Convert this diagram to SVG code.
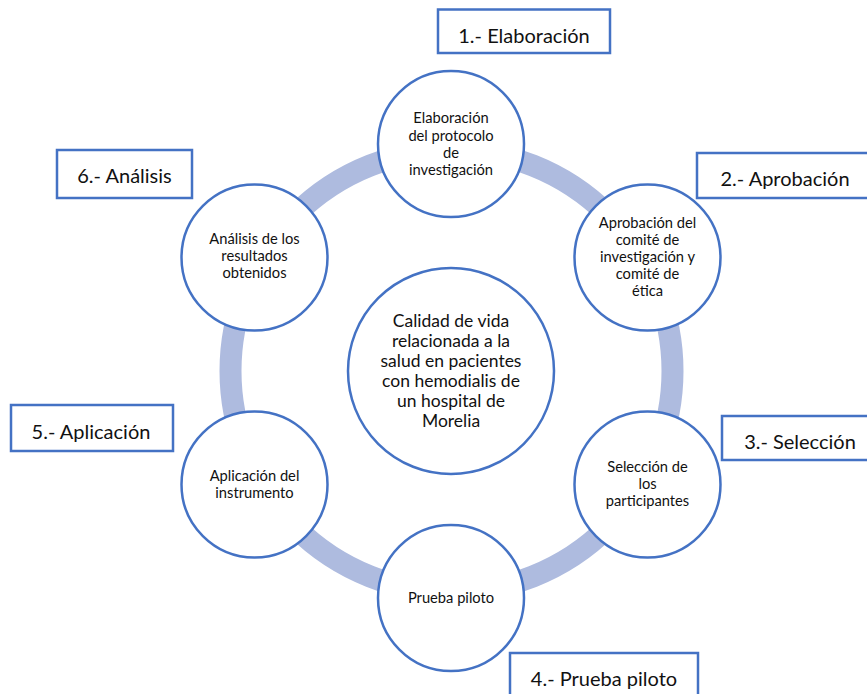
<svg xmlns="http://www.w3.org/2000/svg" width="867" height="694" viewBox="0 0 867 694">
<style>
.node{fill:#FFFFFF;stroke:#4472C4;stroke-width:2.5}
.box{fill:#FFFFFF;stroke:#4472C4;stroke-width:2.5}
.t{font-family:Lato,"Liberation Sans",sans-serif;font-size:14.7px;fill:#111111;text-anchor:middle}
.tc{font-family:Lato,"Liberation Sans",sans-serif;font-size:17.5px;fill:#111111;text-anchor:middle}
.tl{font-family:Lato,"Liberation Sans",sans-serif;font-size:20px;fill:#111111;text-anchor:middle}
</style>
<rect width="867" height="694" fill="#FFFFFF"/>
<g id="connectors">
<circle cx="451.5" cy="371" r="221" fill="none" stroke="#AEBBDF" stroke-width="22"/>
</g>
<g id="center">
<circle class="node" cx="451" cy="371" r="103"/>
<text class="tc"><tspan x="451" y="327">Calidad de vida</tspan><tspan x="451" y="347">relacionada a la</tspan><tspan x="451" y="367">salud en pacientes</tspan><tspan x="451" y="387">con hemodialis de</tspan><tspan x="451" y="407">un hospital de</tspan><tspan x="451" y="427">Morelia</tspan></text>
</g>
<g id="n1">
<circle class="node" cx="451" cy="144" r="73"/>
<text class="t"><tspan x="451" y="123">Elaboración</tspan><tspan x="451" y="140.5">del protocolo</tspan><tspan x="451" y="158">de</tspan><tspan x="451" y="175">investigación</tspan></text>
</g>
<g id="n2">
<circle class="node" cx="647.5" cy="257.5" r="73"/>
<text class="t"><tspan x="647.5" y="228">Aprobación del</tspan><tspan x="647.5" y="245">comité de</tspan><tspan x="647.5" y="262">investigación y</tspan><tspan x="647.5" y="279">comité de</tspan><tspan x="647.5" y="296">ética</tspan></text>
</g>
<g id="n3">
<circle class="node" cx="647.5" cy="484.5" r="73"/>
<text class="t"><tspan x="647.5" y="472">Selección de</tspan><tspan x="647.5" y="489">los</tspan><tspan x="647.5" y="506">participantes</tspan></text>
</g>
<g id="n4">
<circle class="node" cx="451" cy="598" r="73"/>
<text class="t"><tspan x="451" y="603">Prueba piloto</tspan></text>
</g>
<g id="n5">
<circle class="node" cx="254.5" cy="484.5" r="73"/>
<text class="t"><tspan x="254.5" y="481">Aplicación del</tspan><tspan x="254.5" y="498">instrumento</tspan></text>
</g>
<g id="n6">
<circle class="node" cx="254.5" cy="257.5" r="73"/>
<text class="t"><tspan x="254.5" y="244">Análisis de los</tspan><tspan x="254.5" y="261">resultados</tspan><tspan x="254.5" y="278">obtenidos</tspan></text>
</g>
<g id="label1">
<rect class="box" x="438" y="9.5" width="172" height="43.5"/>
<text class="tl" x="524" y="43">1.- Elaboración</text>
</g>
<g id="label2">
<rect class="box" x="697" y="153" width="175" height="45"/>
<text class="tl" x="785" y="186">2.- Aprobación</text>
</g>
<g id="label3">
<rect class="box" x="722" y="416" width="155" height="44"/>
<text class="tl" x="800" y="449">3.- Selección</text>
</g>
<g id="label4">
<rect class="box" x="510" y="653" width="188" height="50"/>
<text class="tl" x="604" y="686">4.- Prueba piloto</text>
</g>
<g id="label5">
<rect class="box" x="11" y="405" width="162" height="46"/>
<text class="tl" x="91" y="439">5.- Aplicación</text>
</g>
<g id="label6">
<rect class="box" x="57" y="150" width="135" height="48"/>
<text class="tl" x="124.5" y="183">6.- Análisis</text>
</g>
</svg>
